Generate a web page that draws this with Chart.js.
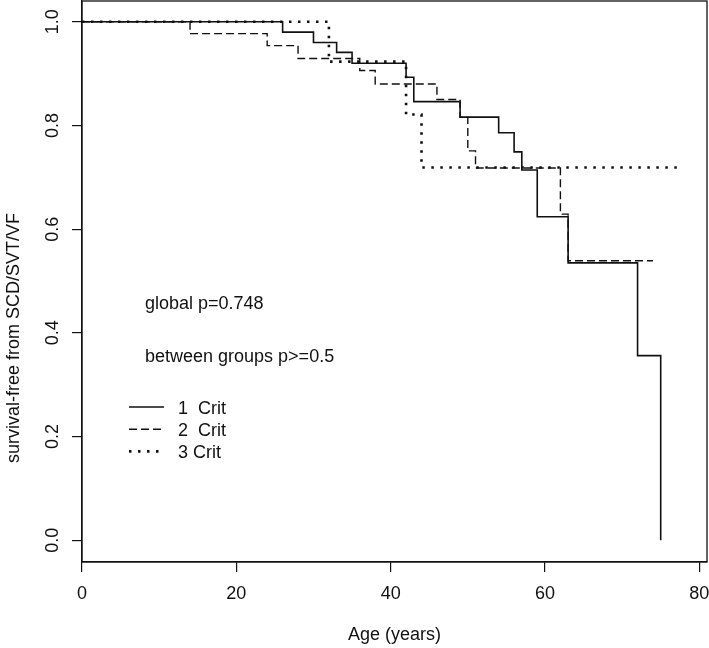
<!DOCTYPE html>
<html>
<head>
<meta charset="utf-8">
<script src="https://cdn.jsdelivr.net/npm/chart.js@4.4.1/dist/chart.umd.min.js"></script>
<style>
  html, body { margin: 0; padding: 0; background: #fff; }
  #grafica { display: block; }
</style>
</head>
<body>
<canvas id="grafica" width="709" height="648"></canvas>
<script>
// Curvas Kaplan-Meier por numero de criterios
const edad1Crit = [0, 26, 30, 33, 35, 42, 43, 49, 54, 56, 57, 59, 63, 72, 75];
const surv1Crit = [1, 0.98, 0.96, 0.941, 0.92, 0.893, 0.846, 0.816, 0.786, 0.749, 0.714, 0.624, 0.535, 0.356, 0];

const edad2Crit = [0, 14, 24, 28, 36, 38, 46, 49, 50, 51, 62, 63, 74];
const surv2Crit = [1, 0.977, 0.954, 0.929, 0.906, 0.88, 0.85, 0.816, 0.751, 0.718, 0.629, 0.539, 0.539];

const edad3Crit = [0, 32, 42, 44, 77.6];
const surv3Crit = [1, 0.923, 0.821, 0.719, 0.719];

const xTicks = [0, 20, 40, 60, 80];
const yTicks = [0, 0.2, 0.4, 0.6, 0.8, 1.0];

const tituloX = 'Age (years)';
const tituloY = 'survival-free from SCD/SVT/VF';
const notas = ['global p=0.748', 'between groups p>=0.5'];
const etiquetas = ['1  Crit', '2  Crit', '3 Crit'];

const FUENTE = "'Liberation Sans', Arial, Helvetica, sans-serif";
const TINTA = '#111';

const puntos = (xs, ys) => xs.map((x, i) => ({ x, y: ys[i] }));

const serie = (label, xs, ys, dash, ancho) => ({
  label,
  data: puntos(xs, ys),
  borderColor: TINTA,
  borderWidth: ancho,
  borderDash: dash,
  borderCapStyle: 'butt',
  stepped: 'before',
  pointRadius: 0,
  fill: false,
});

// texto, caja y leyenda dibujados encima (estilo R base)
const marco = {
  id: 'marco',
  afterDraw(chart) {
    const { ctx, chartArea: a } = chart;
    ctx.save();
    ctx.strokeStyle = TINTA;
    ctx.lineWidth = 1.3;
    ctx.strokeRect(a.left, a.top, a.right - a.left, a.bottom - a.top);

    ctx.fillStyle = TINTA;
    ctx.font = `18px ${FUENTE}`;

    // titulo eje y
    ctx.save();
    ctx.translate(14, 338);
    ctx.rotate(-Math.PI / 2);
    ctx.textAlign = 'center';
    ctx.textBaseline = 'middle';
    ctx.fillText(tituloY, 0, 0);
    ctx.restore();

    ctx.textAlign = 'left';
    ctx.textBaseline = 'alphabetic';
    ctx.fillText(notas[0], 145, 309);
    ctx.fillText(notas[1], 145, 362);

    // leyenda
    chart.data.datasets.forEach((ds, i) => {
      const base = 414 + i * 22.2;
      ctx.save();
      ctx.strokeStyle = ds.borderColor;
      ctx.lineWidth = ds.borderWidth;
      ctx.setLineDash(ds.borderDash);
      ctx.beginPath();
      ctx.moveTo(129, base - 7);
      ctx.lineTo(164, base - 7);
      ctx.stroke();
      ctx.restore();
      ctx.fillText(etiquetas[i], 178, base);
    });
    ctx.restore();
  },
};

const ejeComun = {
  grid: { drawOnChartArea: false, drawTicks: true, tickLength: 10, color: TINTA, lineWidth: 1.2 },
  border: { display: true, color: TINTA, width: 1.2 },
};

new Chart(document.getElementById('grafica'), {
  type: 'line',
  data: {
    datasets: [
      serie(etiquetas[0], edad1Crit, surv1Crit, [], 1.6),
      serie(etiquetas[1], edad2Crit, surv2Crit, [8, 4], 1.4),
      serie(etiquetas[2], edad3Crit, surv3Crit, [2.5, 6.5], 2.6),
    ],
  },
  options: {
    responsive: false,
    animation: false,
    layout: { padding: { top: 1, right: 2, left: 0, bottom: 0 } },
    plugins: { legend: { display: false }, tooltip: { enabled: false } },
    scales: {
      x: {
        ...ejeComun,
        type: 'linear',
        min: 0,
        max: 81,
        afterBuildTicks: s => { s.ticks = xTicks.map(v => ({ value: v })); },
        afterFit: s => { s.height = 86; s.paddingLeft = 0; s.paddingRight = 0; },
        ticks: { color: TINTA, font: { family: FUENTE, size: 18 }, padding: 11, maxRotation: 0, autoSkip: false },
        title: { display: true, text: tituloX, color: TINTA, font: { family: FUENTE, size: 18 }, padding: { top: 0, bottom: 2 } },
      },
      y: {
        ...ejeComun,
        type: 'linear',
        min: -0.042,
        max: 1.04,
        afterBuildTicks: s => { s.ticks = yTicks.map(v => ({ value: v })); },
        afterFit: s => { s.width = 82; s.paddingTop = 0; s.paddingBottom = 0; },
        ticks: {
          color: TINTA,
          font: { family: FUENTE, size: 18 },
          callback: v => v.toFixed(1),
          minRotation: 90,
          maxRotation: 90,
          crossAlign: 'center',
          padding: 6,
          autoSkip: false,
        },
      },
    },
  },
  plugins: [marco],
});
</script>
</body>
</html>
